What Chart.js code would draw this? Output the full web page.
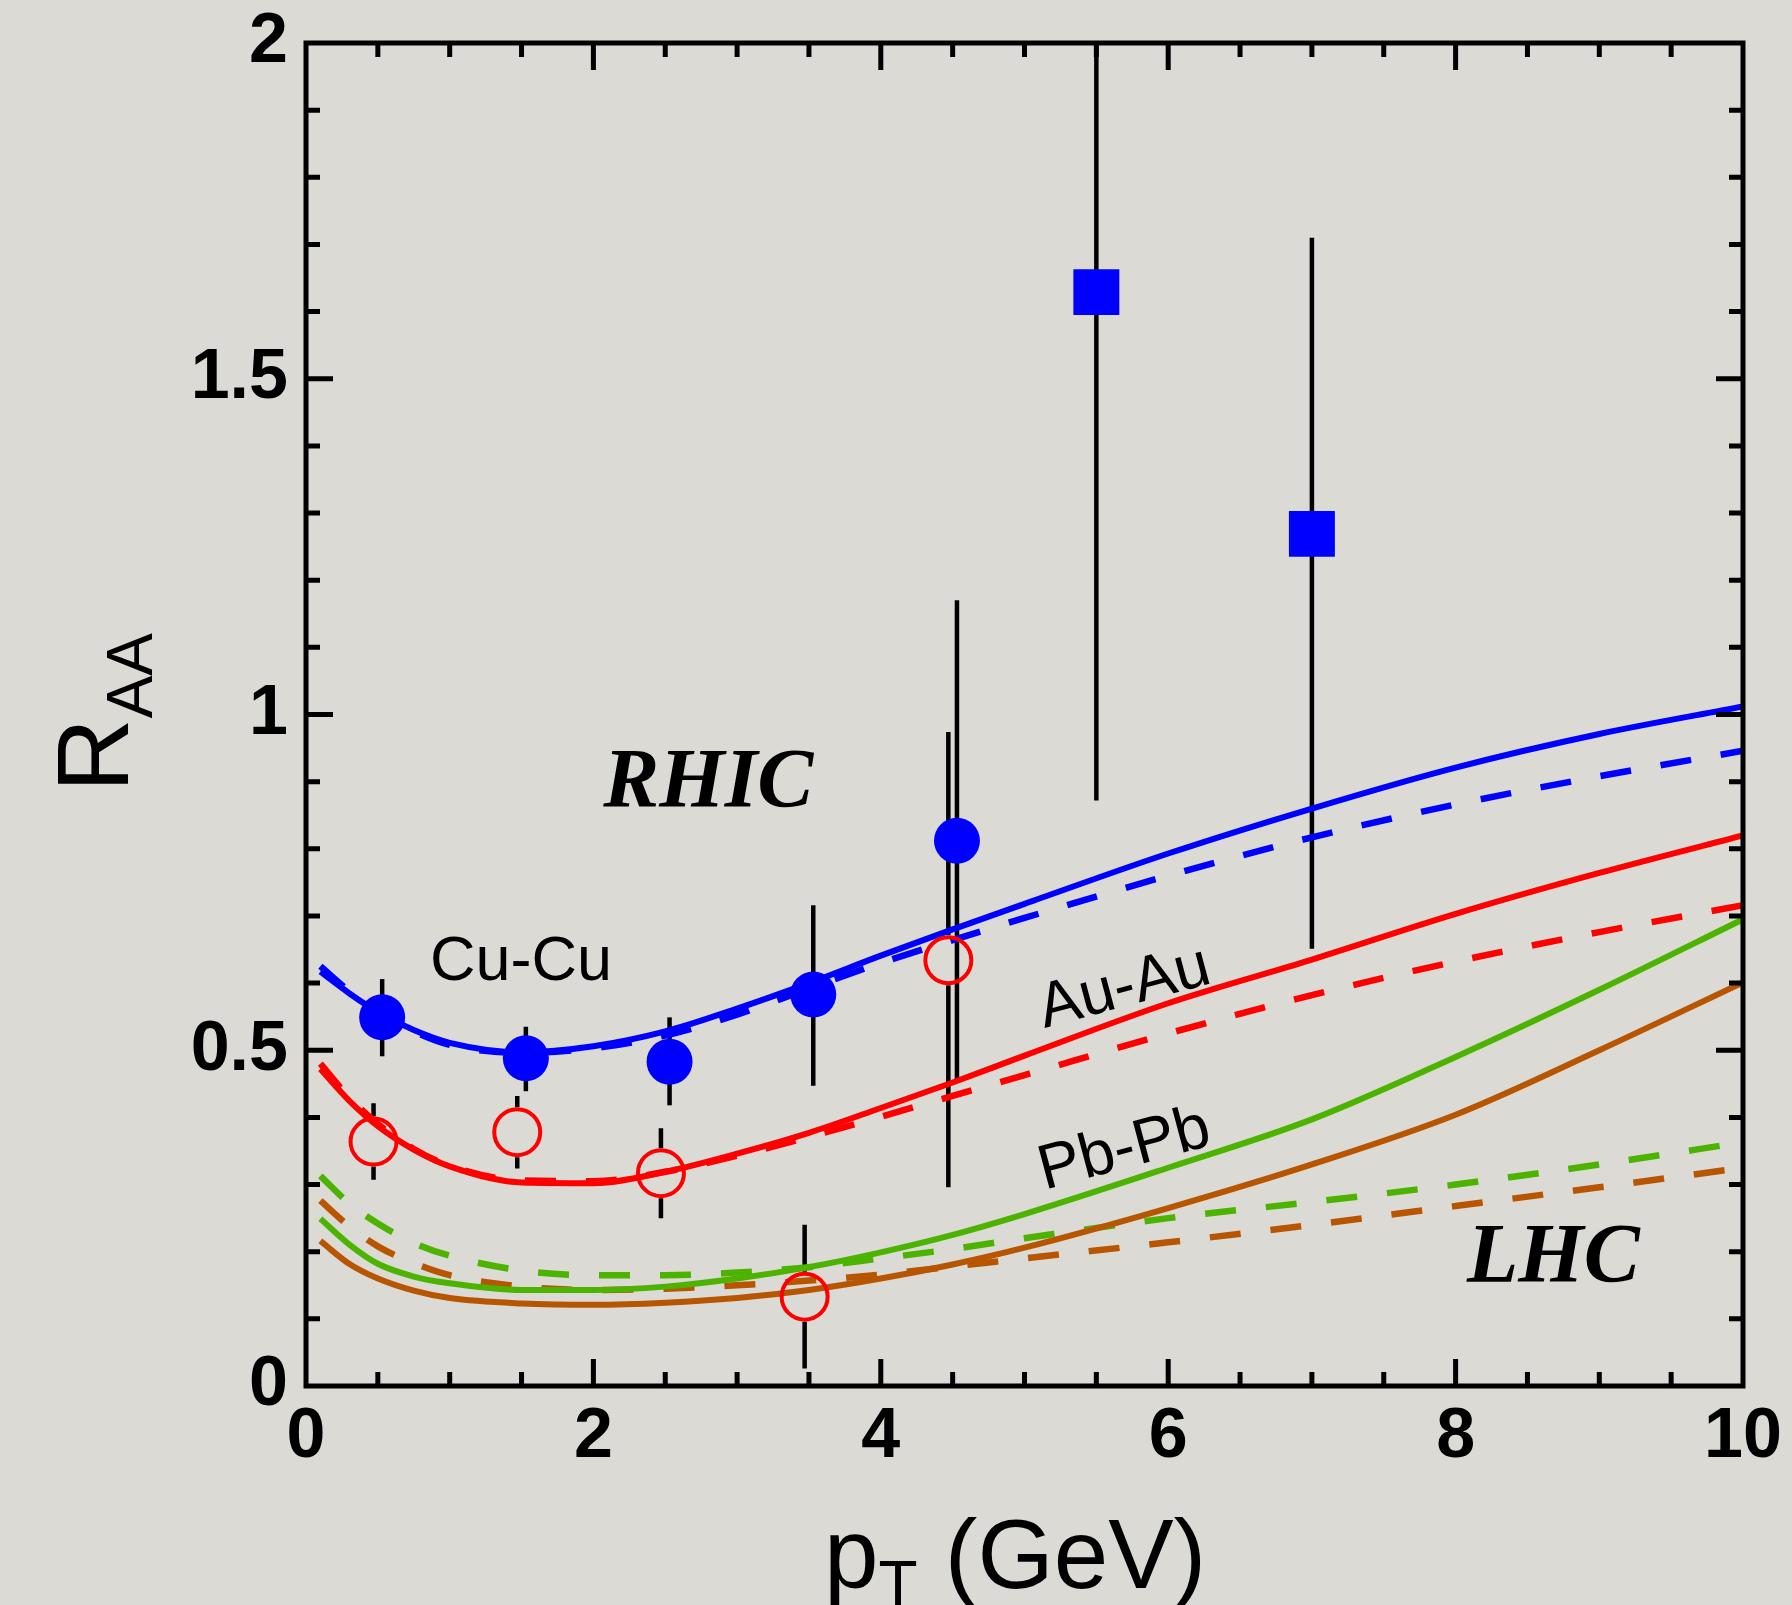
<!DOCTYPE html>
<html>
<head>
<meta charset="utf-8">
<title>R_AA vs pT</title>
<script src="https://cdn.jsdelivr.net/npm/chart.js@4.4.0/dist/chart.umd.min.js"></script>
<style>
    html, body { margin: 0; padding: 0; background: #dcdad5; }
    canvas { display: block; }
</style>
</head>
<body>
<canvas id="raaChart" width="1792" height="1605"></canvas>
<script>
// pT grid of the model curves (GeV)
const ptGrid = [0.1, 0.3, 0.5, 0.75, 1, 1.5, 2, 2.5, 3, 3.5, 4, 4.5, 5, 6, 7, 8, 9, 10];

// RHIC curves
const cuSolid  = [0.617, 0.585, 0.557, 0.530, 0.511, 0.497, 0.506, 0.528, 0.562, 0.600, 0.641, 0.680, 0.718, 0.793, 0.860, 0.921, 0.971, 1.012];
const cuDashed = [0.625, 0.588, 0.557, 0.528, 0.508, 0.496, 0.503, 0.522, 0.553, 0.592, 0.630, 0.664, 0.697, 0.760, 0.817, 0.866, 0.908, 0.946];
const auSolid  = [0.472, 0.425, 0.387, 0.352, 0.327, 0.303, 0.302, 0.319, 0.346, 0.377, 0.414, 0.452, 0.492, 0.570, 0.635, 0.703, 0.764, 0.820];
const auDashed = [0.480, 0.430, 0.390, 0.353, 0.328, 0.306, 0.305, 0.319, 0.343, 0.371, 0.401, 0.432, 0.463, 0.525, 0.582, 0.632, 0.676, 0.716];

// LHC curves (Pb-Pb)
const pbGreen       = [0.249, 0.211, 0.182, 0.163, 0.153, 0.143, 0.143, 0.148, 0.160, 0.177, 0.199, 0.225, 0.256, 0.325, 0.397, 0.490, 0.590, 0.695];
const pbBrown       = [0.216, 0.182, 0.160, 0.142, 0.131, 0.123, 0.121, 0.124, 0.131, 0.143, 0.160, 0.181, 0.206, 0.265, 0.330, 0.404, 0.500, 0.601];
const pbGreenDashed = [0.313, 0.272, 0.242, 0.213, 0.194, 0.172, 0.165, 0.165, 0.169, 0.177, 0.190, 0.204, 0.220, 0.250, 0.274, 0.300, 0.330, 0.363];
const pbBrownDashed = [0.276, 0.238, 0.208, 0.183, 0.165, 0.148, 0.143, 0.145, 0.150, 0.157, 0.166, 0.178, 0.190, 0.214, 0.240, 0.268, 0.296, 0.325];

// data: Cu-Cu (filled circles)
const cuPt  = [0.53, 1.53, 2.53, 3.53, 4.53];
const cuRaa = [0.549, 0.488, 0.483, 0.583, 0.812];
const cuLo  = [0.491, 0.439, 0.418, 0.447, 0.452];
const cuHi  = [0.606, 0.535, 0.549, 0.716, 1.170];

// data: high pT (filled squares)
const hiPt  = [5.5, 7.0];
const hiRaa = [1.629, 1.269];
const hiLo  = [0.872, 0.651];
const hiHi  = [2.0, 1.710];

// data: Au-Au (open circles)
const auPt  = [0.47, 1.47, 2.47, 3.47, 4.47];
const auRaa = [0.364, 0.378, 0.317, 0.133, 0.634];
const auLo  = [0.307, 0.324, 0.250, 0.026, 0.296];
const auHi  = [0.421, 0.432, 0.384, 0.240, 0.974];

// tick labels
const xTicks = [0, 2, 4, 6, 8, 10];
const yTicks = [0, 0.5, 1, 1.5, 2];

const BLUE = '#0000ff';
const RED = '#ff0000';
const GREEN = '#4cb400';
const BROWN = '#b85500';

function pairs(xs, ys) {
    return xs.map((x, i) => ({ x: x, y: ys[i] }));
}

function curve(values, color, dashed) {
    return {
        data: pairs(ptGrid, values),
        showLine: true,
        borderColor: color,
        borderWidth: dashed ? 6.5 : 6,
        borderDash: dashed ? [31, 30] : [],
        pointRadius: 0,
        cubicInterpolationMode: 'monotone',
        fill: false,
        order: 2
    };
}

// error bars, frame with inner ticks, labels
const decorations = {
    id: 'decorations',
    beforeDatasetsDraw(chart) {
        const ctx = chart.ctx;
        const area = chart.chartArea;
        ctx.save();
        ctx.beginPath();
        ctx.rect(area.left, area.top, area.right - area.left, area.bottom - area.top);
        ctx.clip();
        ctx.strokeStyle = '#000';
        ctx.lineWidth = 4.5;
        chart.data.datasets.forEach((ds, i) => {
            if (!ds.errLo) return;
            const meta = chart.getDatasetMeta(i);
            meta.data.forEach((pt, j) => {
                const yLo = chart.scales.y.getPixelForValue(ds.errLo[j]);
                const yHi = chart.scales.y.getPixelForValue(ds.errHi[j]);
                const gap = ds.hollow ? ds.pointRadius + 2 : 0;
                ctx.beginPath();
                if (gap) {
                    ctx.moveTo(pt.x, yHi); ctx.lineTo(pt.x, pt.y - gap);
                    ctx.moveTo(pt.x, pt.y + gap); ctx.lineTo(pt.x, yLo);
                } else {
                    ctx.moveTo(pt.x, yHi); ctx.lineTo(pt.x, yLo);
                }
                ctx.stroke();
            });
        });
        ctx.restore();
    },
    afterDatasetsDraw(chart) {
        const ctx = chart.ctx;
        const a = chart.chartArea;
        const xs = chart.scales.x;
        const ys = chart.scales.y;
        ctx.save();
        ctx.strokeStyle = '#000';
        ctx.lineWidth = 5;
        ctx.lineCap = 'butt';
        ctx.strokeRect(a.left, a.top, a.right - a.left, a.bottom - a.top);

        // x ticks every 0.5, major every 2
        for (let k = 1; k < 20; k++) {
            const v = k * 0.5;
            const len = (k % 4 === 0) ? 27 : 14;
            const px = xs.getPixelForValue(v);
            ctx.beginPath();
            ctx.moveTo(px, a.bottom); ctx.lineTo(px, a.bottom - len);
            ctx.moveTo(px, a.top); ctx.lineTo(px, a.top + len);
            ctx.stroke();
        }
        // y ticks every 0.1, major every 0.5
        for (let k = 1; k < 20; k++) {
            const v = k * 0.1;
            const len = (k % 5 === 0) ? 27 : 14;
            const py = ys.getPixelForValue(v);
            ctx.beginPath();
            ctx.moveTo(a.left, py); ctx.lineTo(a.left + len, py);
            ctx.moveTo(a.right, py); ctx.lineTo(a.right - len, py);
            ctx.stroke();
        }

        // annotations
        ctx.fillStyle = '#000';
        ctx.textBaseline = 'alphabetic';
        ctx.textAlign = 'center';
        ctx.font = 'bold italic 84px "Liberation Serif"';
        ctx.fillText('RHIC', xs.getPixelForValue(2.80), ys.getPixelForValue(0.862));
        ctx.fillText('LHC', xs.getPixelForValue(8.68), ys.getPixelForValue(0.155));

        ctx.font = '63px "Liberation Sans"';
        ctx.fillText('Cu-Cu', xs.getPixelForValue(1.496), ys.getPixelForValue(0.605));

        const tilted = [['Au-Au', 5.727, 0.567], ['Pb-Pb', 5.727, 0.326]];
        tilted.forEach(t => {
            ctx.save();
            ctx.translate(xs.getPixelForValue(t[1]), ys.getPixelForValue(t[2]));
            ctx.rotate(-15 * Math.PI / 180);
            ctx.fillText(t[0], 0, 0);
            ctx.restore();
        });
        ctx.restore();
    },
    afterDraw(chart) {
        const ctx = chart.ctx;
        ctx.save();
        ctx.fillStyle = '#000';
        ctx.textBaseline = 'alphabetic';
        ctx.textAlign = 'left';

        // y axis title R_AA
        ctx.translate(128, 792);
        ctx.rotate(-Math.PI / 2);
        ctx.font = '102px "Liberation Sans"';
        ctx.fillText('R', 0, 0);
        const wR = ctx.measureText('R').width;
        ctx.font = '64px "Liberation Sans"';
        ctx.fillText('AA', wR, 24);
        ctx.restore();

        // x axis title p_T (GeV)
        ctx.save();
        ctx.fillStyle = '#000';
        ctx.textBaseline = 'alphabetic';
        ctx.textAlign = 'left';
        let x = 824;
        ctx.font = '98px "Liberation Sans"';
        ctx.fillText('p', x, 1588);
        x += ctx.measureText('p').width;
        ctx.font = '64px "Liberation Sans"';
        ctx.fillText('T', x, 1606);
        x += ctx.measureText('T').width;
        ctx.font = '98px "Liberation Sans"';
        ctx.fillText(' (GeV)', x, 1588);
        ctx.restore();
    }
};

const ctx = document.getElementById('raaChart').getContext('2d');

new Chart(ctx, {
    type: 'scatter',
    data: {
        datasets: [
            curve(cuSolid, BLUE, false),
            curve(cuDashed, BLUE, true),
            curve(auSolid, RED, false),
            curve(auDashed, RED, true),
            curve(pbGreen, GREEN, false),
            curve(pbBrown, BROWN, false),
            curve(pbGreenDashed, GREEN, true),
            curve(pbBrownDashed, BROWN, true),
            {
                data: pairs(cuPt, cuRaa),
                errLo: cuLo, errHi: cuHi,
                pointStyle: 'circle',
                pointRadius: 23,
                backgroundColor: BLUE,
                borderWidth: 0,
                order: 0
            },
            {
                data: pairs(hiPt, hiRaa),
                errLo: hiLo, errHi: hiHi,
                pointStyle: 'rect',
                pointRadius: 32.5,
                backgroundColor: BLUE,
                borderWidth: 0,
                order: 0
            },
            {
                data: pairs(auPt, auRaa),
                errLo: auLo, errHi: auHi,
                hollow: true,
                pointStyle: 'circle',
                pointRadius: 23,
                backgroundColor: 'rgba(0,0,0,0)',
                borderColor: RED,
                borderWidth: 4,
                order: 0
            }
        ]
    },
    options: {
        responsive: false,
        animation: false,
        devicePixelRatio: 1,
        layout: { padding: { left: 0, top: 43, right: 49, bottom: 0 } },
        plugins: {
            legend: { display: false },
            tooltip: { enabled: false }
        },
        scales: {
            x: {
                type: 'linear',
                min: 0,
                max: 10,
                grid: { display: false, drawTicks: false },
                border: { display: false },
                afterBuildTicks: scale => { scale.ticks = xTicks.map(v => ({ value: v })); },
                afterFit: scale => {
                    scale.height = 219;
                    scale.paddingLeft = 0;
                    scale.paddingRight = 0;
                },
                ticks: {
                    color: '#000',
                    padding: 10,
                    maxRotation: 0,
                    font: { family: 'Liberation Sans', weight: 'bold', size: 70 },
                    callback: v => String(v)
                }
            },
            y: {
                type: 'linear',
                min: 0,
                max: 2,
                grid: { display: false, drawTicks: false },
                border: { display: false },
                afterBuildTicks: scale => { scale.ticks = yTicks.map(v => ({ value: v })); },
                afterFit: scale => {
                    scale.width = 306;
                    scale.paddingTop = 0;
                    scale.paddingBottom = 0;
                },
                ticks: {
                    color: '#000',
                    padding: 18,
                    font: { family: 'Liberation Sans', weight: 'bold', size: 70 },
                    callback: v => String(v)
                }
            }
        }
    },
    plugins: [decorations]
});
</script>
</body>
</html>
